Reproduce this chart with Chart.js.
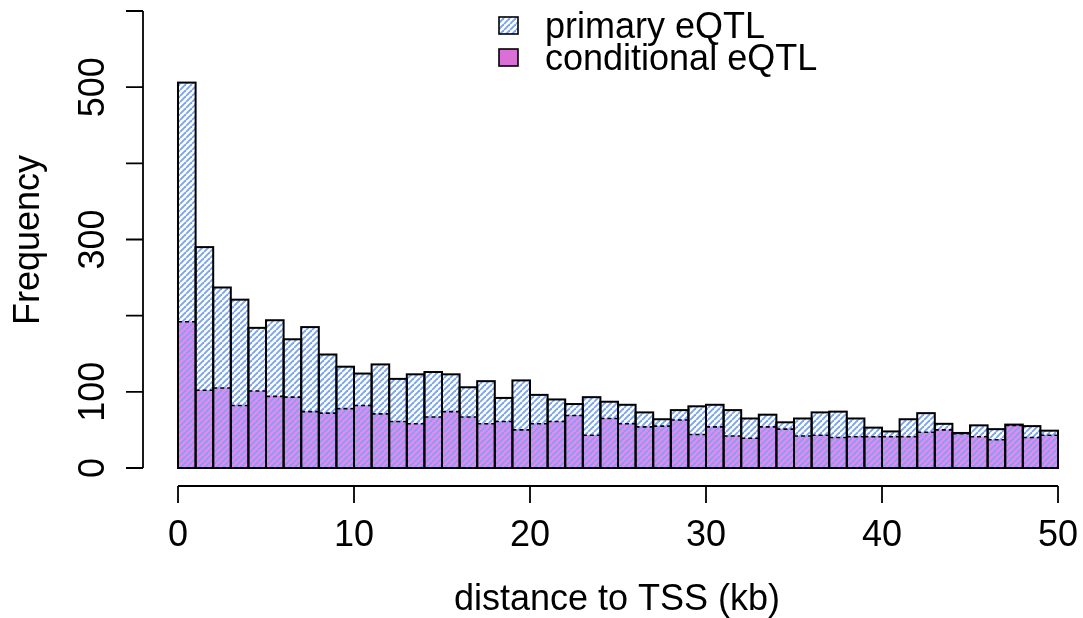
<!DOCTYPE html>
<html>
<head>
<meta charset="utf-8">
<script src="https://cdn.jsdelivr.net/npm/chart.js@4"></script>
<style>
  html, body { margin: 0; padding: 0; background: #fff; }
  #wrap { width: 1083px; height: 618px; }
</style>
</head>
<body>
<div id="wrap"><canvas id="hist" width="1083" height="618"></canvas></div>
<script>
// 1 kb bins from 0 to 50 kb
const binStarts = Array.from({ length: 50 }, (_, i) => i);
const primaryCounts = [
  506, 290, 237, 221, 184, 194, 169, 185, 149, 133,
  124, 136, 117, 123, 126, 123, 106, 114, 92, 115,
  96, 90, 84, 93, 87, 83, 73, 64, 76, 81,
  83, 76, 65, 70, 60, 65, 73, 74, 65, 53,
  48, 64, 72, 58, 46, 56, 51, 57, 55, 49
];
const conditionalCounts = [
  192, 102, 105, 82, 101, 94, 93, 74, 72, 78,
  82, 71, 61, 58, 67, 74, 67, 58, 61, 50,
  58, 61, 69, 43, 65, 58, 54, 55, 63, 44,
  54, 42, 39, 54, 51, 42, 43, 40, 41, 41,
  41, 41, 47, 50, 45, 41, 37, 56, 40, 43
];
const seriesLabels = ['primary eQTL', 'conditional eQTL'];
const xTicks = [0, 10, 20, 30, 40, 50];
const yTicks = [0, 100, 200, 300, 400, 500, 600];
const yTickLabels = ['0', '100', '', '300', '', '500', ''];
const xTitle = 'distance to TSS (kb)';
const yTitle = 'Frequency';

const FONT = '36px "Liberation Sans", Arial, Helvetica, sans-serif';
const blue = '#7ca4ee';
const orchid = '#da70d6';
const orchidLight = '#f083ee';

// diagonal hatch "/" drawn over an optional background
function makeHatch(bg) {
  const size = 6;
  const c = document.createElement('canvas');
  c.width = size; c.height = size;
  const g = c.getContext('2d');
  if (bg) { g.fillStyle = bg; g.fillRect(0, 0, size, size); }
  g.strokeStyle = blue;
  g.lineWidth = 1.9;
  [-size, 0, size].forEach(off => {
    g.beginPath();
    g.moveTo(off, size);
    g.lineTo(off + size, 0);
    g.stroke();
  });
  return g.createPattern(c, 'repeat');
}

const ctx = document.getElementById('hist').getContext('2d');
const hatch = makeHatch(null);
const hatchSwatch = makeHatch('#ffffff');

const toPoints = vals => vals.map((v, i) => ({ x: binStarts[i] + 0.5, y: v }));

// R-style detached axes, borders, dashed tops, legend
const rStyle = {
  id: 'rStyle',
  afterDatasetsDraw(chart) {
    const c = chart.ctx;
    const xs = chart.scales.x, ys = chart.scales.y;
    const condMeta = chart.getDatasetMeta(1);
    const primMeta = chart.getDatasetMeta(0);

    c.save();
    // dashed tops of conditional bars
    c.strokeStyle = '#000';
    c.lineWidth = 1.6;
    c.setLineDash([4, 3]);
    condMeta.data.forEach(bar => {
      const p = bar.getProps(['x', 'y', 'width'], true);
      c.beginPath();
      c.moveTo(p.x - p.width / 2, p.y);
      c.lineTo(p.x + p.width / 2, p.y);
      c.stroke();
    });
    c.setLineDash([]);
    // outlines of primary bars
    c.lineWidth = 2;
    primMeta.data.forEach(bar => {
      const p = bar.getProps(['x', 'y', 'base', 'width'], true);
      c.strokeRect(p.x - p.width / 2, p.y, p.width, p.base - p.y);
    });

    // x axis
    const xAxisY = 486;
    c.lineWidth = 1.8;
    c.beginPath();
    c.moveTo(xs.getPixelForValue(xTicks[0]), xAxisY);
    c.lineTo(xs.getPixelForValue(xTicks[xTicks.length - 1]), xAxisY);
    xTicks.forEach(t => {
      const px = xs.getPixelForValue(t);
      c.moveTo(px, xAxisY);
      c.lineTo(px, xAxisY + 17);
    });
    c.stroke();
    c.fillStyle = '#000';
    c.font = FONT;
    c.textAlign = 'center';
    c.textBaseline = 'alphabetic';
    xTicks.forEach(t => c.fillText(String(t), xs.getPixelForValue(t), 546));
    c.fillText(xTitle, 617, 610);

    // y axis
    const yAxisX = 143;
    c.beginPath();
    c.moveTo(yAxisX, ys.getPixelForValue(yTicks[0]));
    c.lineTo(yAxisX, ys.getPixelForValue(yTicks[yTicks.length - 1]));
    yTicks.forEach(t => {
      const py = ys.getPixelForValue(t);
      c.moveTo(yAxisX, py);
      c.lineTo(yAxisX - 17, py);
    });
    c.stroke();
    yTicks.forEach((t, i) => {
      if (!yTickLabels[i]) return;
      c.save();
      c.translate(104, ys.getPixelForValue(t));
      c.rotate(-Math.PI / 2);
      c.fillText(yTickLabels[i], 0, 0);
      c.restore();
    });
    c.save();
    c.translate(39, 240);
    c.rotate(-Math.PI / 2);
    c.fillText(yTitle, 0, 0);
    c.restore();

    // legend
    const rows = [
      { fill: hatchSwatch, y: 17 },
      { fill: orchid, y: 49 }
    ];
    c.textAlign = 'left';
    rows.forEach((r, i) => {
      c.fillStyle = r.fill;
      c.fillRect(499, r.y, 19, 17);
      c.lineWidth = 1.6;
      c.strokeRect(499, r.y, 19, 17);
      c.fillStyle = '#000';
      c.fillText(chart.data.datasets[i].label, 545, r.y + 21);
    });
    c.restore();
  }
};

new Chart(ctx, {
  type: 'bar',
  data: {
    datasets: [
      {
        label: seriesLabels[0],
        data: toPoints(primaryCounts),
        backgroundColor: hatch,
        borderWidth: 0,
        order: 1
      },
      {
        label: seriesLabels[1],
        data: toPoints(conditionalCounts),
        backgroundColor: orchidLight,
        borderWidth: 0,
        order: 2
      }
    ]
  },
  options: {
    responsive: false,
    animation: false,
    events: [],
    layout: { padding: { left: 178, right: 25, top: 11, bottom: 150 } },
    datasets: {
      bar: { grouped: false, barPercentage: 1, categoryPercentage: 1 }
    },
    plugins: { legend: { display: false }, tooltip: { enabled: false } },
    scales: {
      x: { type: 'linear', min: 0, max: 50, offset: false, display: false },
      y: { min: 0, max: 600, display: false }
    }
  },
  plugins: [rStyle]
});
</script>
</body>
</html>
